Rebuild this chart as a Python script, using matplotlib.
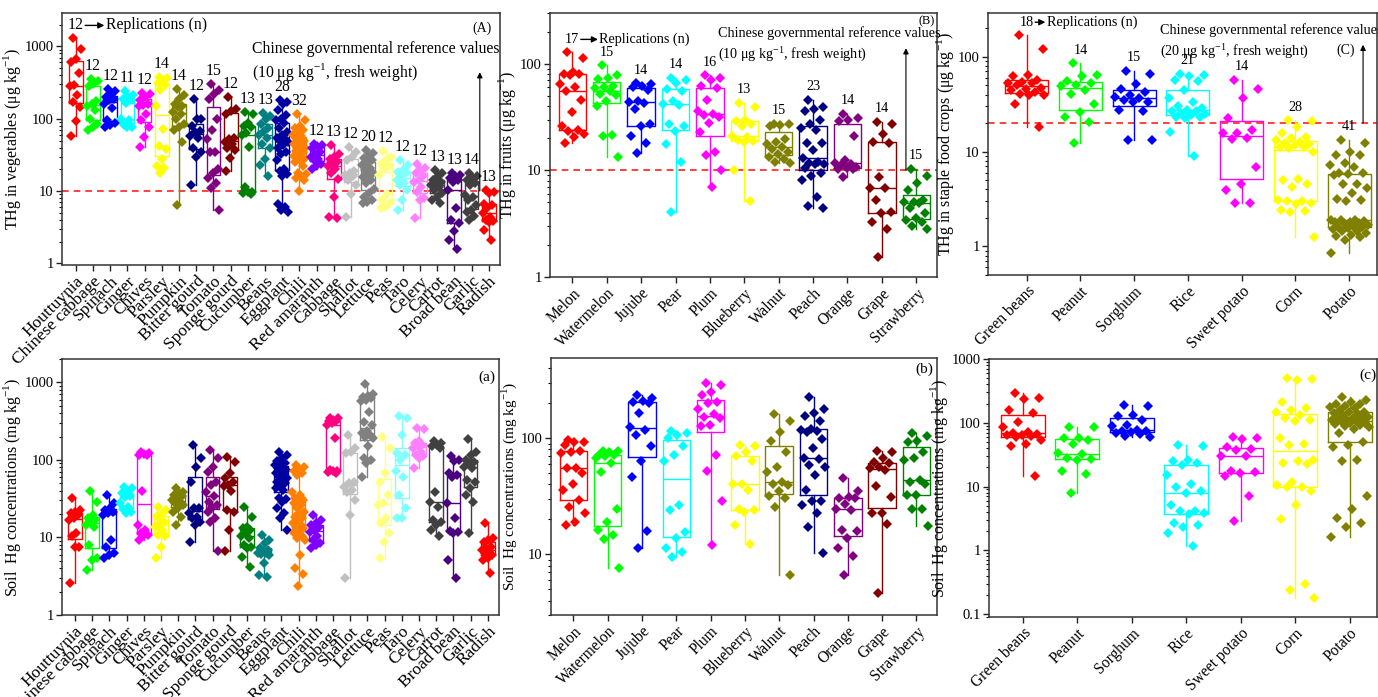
import matplotlib
matplotlib.use('Agg')
import matplotlib.pyplot as plt
from matplotlib.ticker import FuncFormatter, LogLocator, NullFormatter

plt.rcParams['font.family'] = ['Liberation Serif', 'DejaVu Serif']
plt.rcParams['mathtext.fontset'] = 'custom'
plt.rcParams['mathtext.rm'] = 'Liberation Serif'
plt.rcParams['font.size'] = 11

# ---------------- vegetables ----------------
veg_names = ['Houttuynia', 'Chinese cabbage', 'Spinach', 'Ginger', 'Chives', 'Parsley',
             'Pumpkin', 'Bitter gourd', 'Tomato', 'Sponge gourd', 'Cucumber', 'Beans',
             'Eggplant', 'Chili', 'Red amaranth', 'Cabbage', 'Shallot', 'Lettuce', 'Peas',
             'Taro', 'Celery', 'Carrot', 'Broad bean', 'Garlic', 'Radish']
veg_colors = ['#ff0000', '#00ff00', '#0000ff', '#00ffff', '#ff00ff', '#ffff00', '#808000',
              '#000080', '#800080', '#800000', '#008000', '#008080', '#0000a0', '#ff8000',
              '#8000ff', '#ff0080', '#c0c0c0', '#808080', '#ffff80', '#80ffff', '#ff80ff',
              '#404040', '#4b0082', '#404040', '#ff0000']
veg_n = [12, 12, 12, 11, 12, 14, 14, 12, 15, 12, 13, 13, 28, 32, 12, 13, 12, 20, 12, 12, 12,
         13, 13, 14, 13]

# THg in vegetables (ug/kg)
veg_thg = [
    [1290, 935, 660, 615, 430, 290, 285, 210, 170, 145, 92, 58],
    [355, 330, 300, 280, 175, 160, 150, 130, 100, 85, 78, 70],
    [260, 245, 225, 200, 190, 180, 160, 140, 95, 88, 82, 78],
    [240, 210, 200, 190, 180, 165, 100, 95, 82, 78, 77],
    [230, 220, 200, 180, 160, 155, 148, 118, 95, 78, 56, 41],
    [380, 360, 330, 310, 290, 250, 150, 73, 42, 38, 28, 22, 21, 18],
    [260, 210, 190, 160, 150, 145, 125, 118, 100, 85, 78, 70, 48, 6.4],
    [190, 100, 98, 80, 68, 65, 58, 55, 40, 35, 30, 12],
    [300, 250, 220, 190, 100, 70, 53, 35, 35, 20, 18, 15, 13, 11, 5.5],
    [200, 135, 128, 118, 55, 52, 48, 45, 40, 37, 29, 19],
    [125, 116, 86, 80, 78, 63, 60, 41, 11.5, 9.8, 9.6, 9.3, 9.2],
    [120, 110, 100, 85, 75, 68, 60, 55, 45, 40, 28, 23, 16],
    [180, 170, 160, 130, 112, 100, 95, 86, 75, 65, 60, 55, 53, 50, 48, 43, 39, 35, 33, 27,
     20, 19, 17, 16, 6.7, 6, 5.5, 5.2],
    [115, 95, 80, 75, 70, 65, 60, 58, 55, 50, 48, 45, 42, 40, 40, 38, 36, 35, 33, 31, 30,
     29, 28, 27, 25, 22, 18, 17, 16, 15, 14, 10],
    [45, 44, 42, 40, 35, 33, 30, 28, 27, 24, 22, 20],
    [43, 33, 30, 28, 25, 24, 22, 20, 18, 14.5, 8.3, 4.4, 4.2],
    [41, 35, 30, 27, 19, 17.5, 16.5, 16, 14, 12, 9.2, 4.4],
    [37, 34, 31, 29, 27, 25, 23, 21, 19.5, 17.5, 16.5, 15.5, 14, 12.8, 10.8, 9.5, 8.3, 7.6,
     7.1, 6.8],
    [36, 30, 27, 24, 22, 20, 16.5, 9.2, 7.5, 6.9, 6.1, 5.8],
    [27, 23, 19.5, 18.5, 17.5, 16, 14, 13, 12, 10.3, 7.5, 5.4],
    [24, 21, 19.5, 17.5, 16, 14, 13.5, 11.5, 9.8, 7.9, 7.5, 4.3],
    [19.5, 17.5, 16, 14, 13.5, 12.8, 12.3, 11.5, 10.3, 9.3, 8.3, 7.5, 6.9],
    [17.5, 16.5, 16, 15, 14, 13.5, 10.3, 5.8, 4.0, 3.6, 2.8, 2.1, 1.6],
    [17.5, 16, 15.5, 14, 13, 12.3, 8.8, 8.3, 7.5, 6.4, 5.5, 5.2, 4.5, 4.0],
    [10.3, 9.8, 9.3, 6.7, 6.5, 5.8, 4.9, 4.4, 4.0, 3.8, 3.7, 2.9, 2.1],
]

# soil Hg under vegetables (mg/kg)
veg_soil = [
    [32, 22.7, 21.6, 20.5, 19.6, 17.7, 16.9, 11.3, 10.3, 7.6, 7.6, 2.6],
    [40, 29, 19.6, 17.7, 17, 16, 14.5, 13.8, 8, 5.4, 5.1, 3.8],
    [35.5, 27.6, 24, 22.7, 21.6, 20.5, 19.6, 9.3, 7.6, 6.3, 6.0, 5.4],
    [45, 43, 39, 37, 34, 33, 28, 25, 23, 21, 20.6],
    [128, 122, 119, 117, 115, 40, 14.5, 12.5, 11.3, 10.8, 10.3, 9.3],
    [25, 22.7, 19.6, 18.7, 16, 15.3, 13.8, 12.5, 10.8, 10.3, 7.6, 5.4],
    [43, 39, 37, 35.5, 34, 33, 30.6, 29, 27.6, 26.3, 23.9, 21.6, 18.6, 14.5],
    [155, 105, 82, 52, 24, 24, 20.5, 18.6, 17.7, 16, 14.5, 8.8],
    [135, 105, 82, 70, 52, 48, 39, 34, 29, 26, 25, 21.6, 17.7, 16, 6.6],
    [110, 95, 68, 58, 52, 48, 46, 40, 22.7, 21.6, 12.5, 6.6],
    [25, 18.6, 13.8, 13.2, 12.5, 11.3, 10.3, 9.8, 8, 7.6, 7.3, 5.6, 4.2],
    [10.8, 9.3, 8.4, 7.3, 6.9, 6.6, 6.4, 6.3, 6.1, 6.0, 4.7, 3.3, 3.1],
    [128, 117, 105, 96, 91, 87, 85, 82, 78, 74, 71, 68, 64, 62, 58, 55, 52, 50, 48, 43, 41,
     32, 31, 29, 24, 20.5, 17.7, 12.5],
    [87, 80, 74, 71, 68, 64, 39, 35.5, 32, 30.6, 29, 27.6, 26.3, 24, 21.6, 20.5, 18.6, 17.7,
     16.9, 15.3, 14.5, 13.8, 13.2, 12.5, 11.3, 10.3, 9.8, 9.3, 6, 4, 3.4, 2.4],
    [19.6, 16.9, 15.3, 14.5, 13.8, 12.5, 11.9, 10.3, 9.3, 8.4, 8.0, 7.3],
    [350, 345, 330, 320, 315, 300, 285, 190, 75, 73, 72, 70, 68],
    [210, 142, 128, 122, 52, 50, 45, 41, 39, 30.6, 19.6, 3.0],
    [960, 700, 660, 640, 620, 600, 570, 420, 310, 285, 235, 225, 210, 200, 190, 150, 105,
     100, 91, 61],
    [200, 142, 68, 52, 35.5, 28, 26.3, 17.7, 15.5, 11.3, 8.8, 5.4],
    [365, 350, 210, 122, 117, 100, 71, 61, 35.5, 24, 18, 17.7],
    [255, 250, 175, 165, 157, 150, 142, 128, 117, 112, 105, 78],
    [173, 165, 157, 150, 142, 39, 29, 25, 17, 16, 14.5, 12.5, 10.3],
    [112, 100, 96, 68, 64, 60, 27.6, 17.7, 12, 11.9, 11.3, 5.1, 3.0],
    [185, 128, 117, 100, 95, 91, 82, 78, 55, 52, 43, 35.5, 29, 11.3],
    [15.3, 9.8, 9.3, 8.8, 7.6, 7.3, 6.9, 6.6, 6.3, 6.0, 5.4, 5.1, 3.5],
]

# ---------------- fruits ----------------
fruit_names = ['Melon', 'Watermelon', 'Jujube', 'Pear', 'Plum', 'Blueberry', 'Walnut',
               'Peach', 'Orange', 'Grape', 'Strawberry']
fruit_colors = ['#ff0000', '#00ff00', '#0000ff', '#00ffff', '#ff00ff', '#ffff00', '#808000',
                '#000080', '#800080', '#800000', '#008000']
fruit_n = [17, 15, 14, 14, 16, 13, 15, 23, 14, 14, 15]

fruit_thg = [
    [128, 114, 84, 81, 80, 78, 65, 60, 56, 46, 35, 26, 24, 23.4, 22, 20.6, 18],
    [97, 78, 74, 72, 62, 61, 59, 55, 52, 51, 45, 40, 21.5, 21, 13.5],
    [66, 65, 62, 60, 57, 45, 44, 43, 38, 27, 26, 21, 18, 14.5],
    [74, 70, 66, 58, 56, 45, 42, 41.5, 27, 26, 23.5, 17.5, 12, 4.1],
    [78, 73, 70, 62, 59, 46, 36, 34, 33, 32, 28, 23, 15, 14, 10.1, 7.0],
    [43, 39, 29.5, 29, 27, 26, 21, 20.6, 19.2, 19, 18.5, 10, 5.2],
    [27.5, 27, 26.5, 26, 19.5, 18.5, 17.7, 16.7, 16, 15, 14.2, 13.4, 12.7, 12.1, 11.8],
    [46, 39, 37.5, 36, 30, 27, 25, 24, 18, 17.9, 15.5, 13, 12.1, 11.8, 11.6, 11.4, 10.6,
     9.4, 8.9, 8.1, 5.6, 4.6, 4.4],
    [34, 31, 30, 29, 21, 12.5, 11.8, 11.6, 11.2, 10.7, 10.6, 10.4, 10.2, 8.7],
    [28.5, 27.5, 22, 18.5, 18, 8.6, 6.9, 6.8, 5.3, 4.1, 4.0, 3.3, 2.8, 1.55],
    [10.4, 8.8, 7.7, 6.5, 5.3, 5.1, 5.0, 4.9, 4.4, 4.0, 3.6, 3.45, 3.3, 3.0, 2.8],
]

fruit_soil = [
    [97, 93, 92, 87.7, 78, 76, 74, 55, 55, 50, 40, 36, 29.4, 25.8, 22.6, 19.1, 17.9],
    [78, 77, 76, 72, 71, 70, 68, 61, 51, 24.5, 19, 16.2, 14.7, 13.6, 7.6],
    [235, 220, 210, 205, 200, 165, 125, 118, 107, 86, 63, 46, 16, 11.3],
    [115, 110, 107, 100, 86, 72, 63, 26.6, 24.1, 15.7, 13.7, 11.4, 10.4, 9.4],
    [300, 290, 250, 235, 205, 200, 180, 160, 153, 150, 130, 128, 72, 52, 29, 12],
    [88, 85, 76, 70, 64, 40, 40, 36, 24.5, 24, 23, 18, 12.2],
    [161, 141, 114, 95, 76, 56, 51, 42, 40, 39.5, 35, 31.5, 30.4, 25.4, 6.7],
    [225, 177, 164, 156, 140, 120, 118, 116, 113, 99, 82, 67, 66, 59, 57, 48, 36, 29, 28.5,
     26.6, 22.6, 17.3, 10.2],
    [45, 35, 31.4, 30.7, 30.4, 27, 24.8, 24, 16.2, 16, 13.7, 11.4, 9.6, 6.6],
    [77, 76, 67, 62, 61, 57, 55, 53, 39, 31, 22.8, 22.6, 18.2, 4.6],
    [110, 105, 94, 93, 76, 67, 65, 44, 42, 40, 32.5, 32.5, 24.6, 24.6, 17.6],
]

# ---------------- staple food crops ----------------
crop_names = ['Green beans', 'Peanut', 'Sorghum', 'Rice', 'Sweet potato', 'Corn', 'Potato']
crop_colors = ['#ff0000', '#00ff00', '#0000ff', '#00ffff', '#ff00ff', '#ffff00', '#808000']
crop_n = [18, 14, 15, 21, 14, 28, 41]

crop_thg = [
    [169, 122, 64, 62, 57, 54.5, 53, 52.5, 50, 47.4, 45.3, 44.5, 42.6, 41, 40, 39.5, 32, 18.3],
    [85, 64, 63, 55, 53, 50, 49, 45, 41, 32, 26, 23.3, 20.6, 12.4],
    [71, 66, 52, 45.5, 43, 40, 38, 36.5, 35, 33.5, 33, 27.5, 27, 13.3, 13.1],
    [66, 64, 62, 57, 55, 45, 36.5, 33.5, 30, 28.5, 27.5, 27, 26.5, 25.5, 25, 24.5, 23.4,
     23.2, 22.5, 16.2, 9],
    [57, 46, 36.5, 22.5, 16.9, 15.9, 15.6, 13.8, 13.5, 6.9, 4.6, 3.95, 2.9, 2.9],
    [21.5, 21, 18.3, 15.6, 14.4, 13.8, 13.3, 12.7, 12.2, 12, 11.8, 11.3, 11.1, 10.8, 10,
     5.2, 5.0, 4.6, 4.2, 3.1, 3.05, 3.0, 2.85, 2.8, 2.4, 2.35, 2.3, 1.25],
    [13.3, 12.4, 9.8, 9.3, 9.2, 7.5, 7.2, 6.9, 6.0, 5.9, 5.8, 5.7, 4.6, 4.5, 4.1, 3.7, 3.2,
     3.1, 3.0, 1.9, 1.9, 1.88, 1.85, 1.83, 1.8, 1.77, 1.75, 1.7, 1.65, 1.62, 1.6, 1.56,
     1.52, 1.47, 1.44, 1.4, 1.33, 1.3, 1.27, 1.16, 0.85],
]

crop_soil = [
    [293, 244, 238, 160, 142, 103, 85, 71, 69, 67, 65, 64, 61, 60, 54, 46, 43, 14.4],
    [87, 85, 58, 57, 54, 46, 33, 32, 27.5, 27, 26.5, 17.3, 15.8, 7.9],
    [190, 180, 130, 127, 112, 93, 88, 78, 75, 73, 72, 69, 67, 62, 59],
    [44, 43, 26.3, 24.8, 23.2, 22, 15.1, 11, 10, 8.4, 7.9, 5.1, 4.2, 4.1, 3.8, 3.7, 2.7,
     2.5, 2.3, 1.87, 1.15],
    [59, 57, 56, 41, 39, 37, 30.5, 30, 17.3, 17, 16.4, 14.4, 7, 2.9],
    [500, 480, 460, 215, 170, 160, 150, 130, 120, 110, 108, 57, 47, 45, 26, 25, 23, 22.5,
     11.8, 10.6, 10, 9.8, 8.4, 5.1, 3.1, 0.3, 0.24, 0.18],
    [250, 230, 210, 200, 195, 185, 175, 170, 160, 150, 145, 140, 135, 130, 125, 120, 118,
     115, 112, 110, 108, 105, 100, 98, 95, 92, 90, 85, 80, 68, 50, 45, 42, 26, 25.5, 7.1,
     4.4, 3.2, 2.7, 2.3, 1.6],
]

UG = 'μg kg$^{-1}$'
MG = 'mg kg$^{-1}$'


def jitter(k):
    # fixed spread of points across the box width
    return [((i * 0.618034 + 0.3) % 1.0 - 0.5) * 0.72 for i in range(k)]


def panel(ax, names, colors, data, ylim, xlim, ylabel, xfs, yfs):
    pos = list(range(1, len(names) + 1))
    bp = ax.boxplot(data, positions=pos, widths=0.8, whis=(0, 100), showcaps=False,
                    showfliers=False, zorder=2)
    for i, c in enumerate(colors):
        bp['boxes'][i].set(color=c, lw=1.0)
        bp['medians'][i].set(color=c, lw=1.0)
        bp['whiskers'][2 * i].set(color=c, lw=1.0)
        bp['whiskers'][2 * i + 1].set(color=c, lw=1.0)
    for i, (vals, c) in enumerate(zip(data, colors)):
        xs = [pos[i] + o for o in jitter(len(vals))]
        ax.plot(xs, vals, 'D', color=c, ms=5, mew=0, zorder=3)
    ax.set_yscale('log')
    ax.set_ylim(*ylim)
    ax.set_xlim(*xlim)
    ax.set_xticks(pos)
    ax.set_xticklabels(names, rotation=45, ha='right', rotation_mode='anchor', fontsize=xfs)
    ax.yaxis.set_major_locator(LogLocator(base=10))
    ax.yaxis.set_major_formatter(FuncFormatter(lambda v, p: f'{v:g}'))
    ax.yaxis.set_minor_locator(LogLocator(base=10, subs=range(2, 10)))
    ax.yaxis.set_minor_formatter(NullFormatter())
    ax.tick_params(axis='both', direction='out', length=4, width=1, colors='#222222',
                   labelcolor='black', pad=2)
    ax.tick_params(axis='y', labelsize=10.5)
    ax.tick_params(axis='y', which='minor', length=2.5, width=0.8)
    for s in ax.spines.values():
        s.set_linewidth(1.1)
        s.set_color('#333333')
    ax.set_ylabel(ylabel, labelpad=1, fontsize=yfs)
    return pos


def n_labels(ax, pos, data, ns, gap, fs):
    first = None
    for p, vals, n in zip(pos, data, ns):
        t = ax.annotate(str(n), xy=(p, max(vals)), xytext=(0, 13), textcoords='offset pixels',
                        ha='center', va='center', fontsize=fs)
        if first is None:
            first = t
    rep = ax.annotate('Replications (n)', xy=(1, 0.5), xycoords=first, xytext=(gap, 0),
                      textcoords='offset pixels', ha='left', va='center', fontsize=fs)
    ax.annotate('', xy=(0, 0.5), xycoords=rep, xytext=(1, 0.5), textcoords=first,
                arrowprops=dict(arrowstyle='-|>', color='black', lw=1.0, mutation_scale=9,
                                shrinkA=1, shrinkB=1))


def ref_line(ax, value, label, tx, ty1, ty2, arrow_x, arrow_top, fs):
    ax.axhline(value, color='#ff2020', ls=(0, (4, 3)), lw=1.2, zorder=1)
    ax.text(tx, ty1, 'Chinese governmental reference values', transform=ax.transAxes,
            ha='left', va='center', fontsize=fs)
    ax.text(tx, ty2, '(' + label + ' ' + UG + ', fresh weight)', transform=ax.transAxes,
            ha='left', va='center', fontsize=fs)
    ax.annotate('', xy=(arrow_x, arrow_top), xytext=(arrow_x, value),
                arrowprops=dict(arrowstyle='-|>', color='black', lw=0.8, mutation_scale=8,
                                shrinkA=0, shrinkB=0))


fig = plt.figure(figsize=(13.78, 6.97), dpi=100)

axA = fig.add_axes([0.045, 0.6198, 0.3178, 0.3616])
axB = fig.add_axes([0.3991, 0.6026, 0.2808, 0.3788])
axC = fig.add_axes([0.7170, 0.6055, 0.2823, 0.3759])
axa = fig.add_axes([0.045, 0.1176, 0.3171, 0.3673])
axb = fig.add_axes([0.3999, 0.1176, 0.2801, 0.3687])
axc = fig.add_axes([0.7177, 0.1148, 0.2816, 0.3702])

# (A) vegetables THg
pA = panel(axA, veg_names, veg_colors, veg_thg, (0.95, 2900), (0.2, 25.65),
           'THg in vegetables (' + UG + ')', 12.5, 11.5)
n_labels(axA, pA, veg_thg, veg_n, 22, 11.3)
ref_line(axA, 10, '10', 0.434, 0.857, 0.766, 24.48, 440, 11.3)
axA.text(0.959, 0.94, '(A)', transform=axA.transAxes, ha='center', va='center', fontsize=10)

# (B) fruits THg
pB = panel(axB, fruit_names, fruit_colors, fruit_thg, (1, 300), (0.35, 11.6),
           'THg in fruits (' + UG + ')', 11.2, 11.5)
n_labels(axB, pB, fruit_thg, fruit_n, 20, 10.2)
ref_line(axB, 10, '10', 0.434, 0.924, 0.848, 10.7, 140, 10.2)
axB.text(0.974, 0.97, '(B)', transform=axB.transAxes, ha='center', va='center', fontsize=9)

# (C) staple food crops THg
pC = panel(axC, crop_names, crop_colors, crop_thg, (0.5, 290), (0.28, 7.52),
           'THg in staple food crops (' + UG + ')', 11.2, 11.5)
n_labels(axC, pC, crop_thg, crop_n, 13, 10.2)
ref_line(axC, 20, '20', 0.442, 0.935, 0.855, 7.26, 134, 10.2)
axC.text(0.92, 0.859, '(C)', transform=axC.transAxes, ha='center', va='center', fontsize=10)

# (a)(b)(c) soil
panel(axa, veg_names, veg_colors, veg_soil, (1, 2000), (0.25, 25.65),
      'Soil  Hg concentrations (' + MG + ')', 12.5, 11.5)
axa.text(0.973, 0.93, '(a)', transform=axa.transAxes, ha='center', va='center')

panel(axb, fruit_names, fruit_colors, fruit_soil, (3, 490), (0.35, 11.6),
      'Soil  Hg concentrations (' + MG + ')', 11.2, 11)
axb.text(0.966, 0.957, '(b)', transform=axb.transAxes, ha='center', va='center')

panel(axc, crop_names, crop_colors, crop_soil, (0.09, 1000), (0.38, 7.5),
      'Soil  Hg concentrations (' + MG + ')', 11.2, 11.5)
axc.text(0.977, 0.938, '(c)', transform=axc.transAxes, ha='center', va='center')

fig.savefig('out.png', dpi=100)
